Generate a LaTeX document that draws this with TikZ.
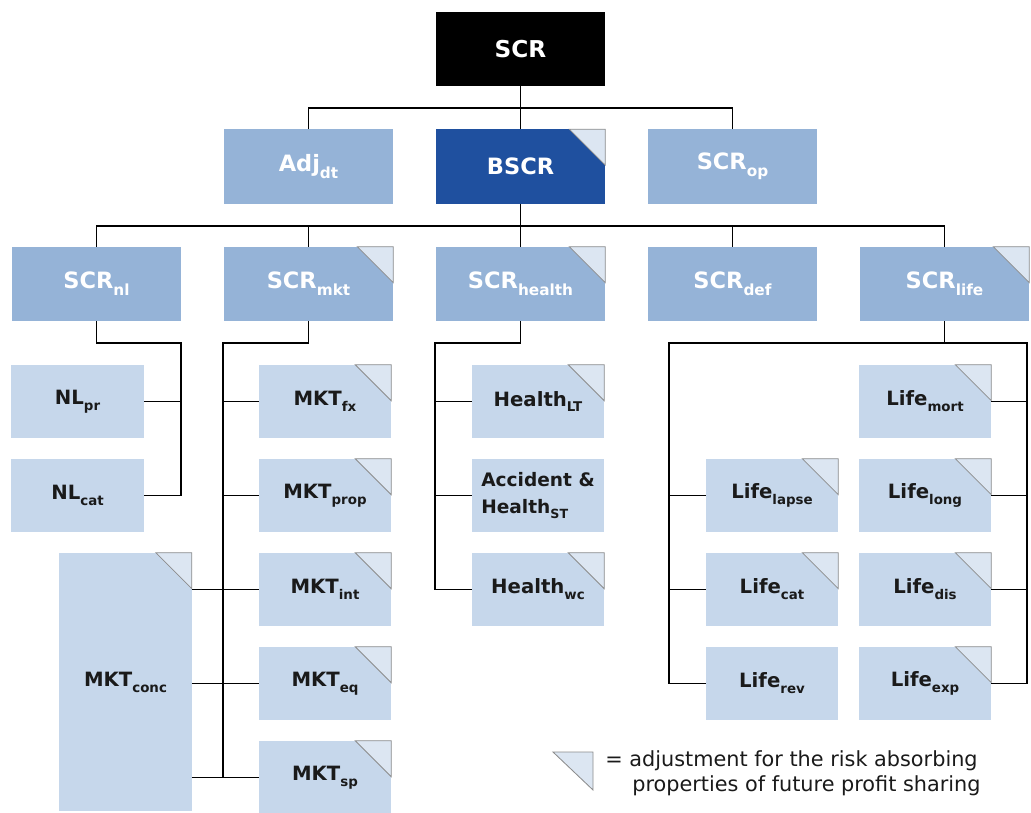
\documentclass[tikz,border=0pt]{standalone}
\usepackage{fontspec}
\setmainfont{DejaVu Sans}

\definecolor{darkblue}{HTML}{1F509F}
\definecolor{midblue}{HTML}{95B3D7}
\definecolor{lightblue}{HTML}{C6D7EB}
\definecolor{flagfill}{HTML}{DCE6F2}
\definecolor{flagline}{HTML}{8C8C8C}
\definecolor{inktext}{HTML}{1A1A1A}

% subscript, lowered as in the chart
\newcommand{\lo}[1]{\raisebox{-0.55ex}{\scalebox{0.68}{#1}}}

\tikzset{
  box/.style={inner sep=0pt, text=white, font=\bfseries\fontsize{16}{19}\selectfont},
  topbox/.style={box, fill=black, minimum width=4.225cm, minimum height=1.85cm, font=\bfseries\fontsize{16.5}{19}\selectfont},
  midbox/.style={box, fill=midblue, minimum width=4.225cm, minimum height=1.85cm},
  subbox/.style={box, fill=lightblue, minimum width=3.3cm, minimum height=1.825cm, text=inktext, font=\bfseries\fontsize{14}{16.5}\selectfont},
  link/.style={draw=black, line width=0.9pt},
  sublink/.style={draw=black, line width=1.2pt},
  flag/.style={fill=flagfill, draw=flagline, line width=0.6pt},
}

\begin{document}
\begin{tikzpicture}[x=0.025cm, y=-0.025cm]
            \useasboundingbox (0,0) rectangle (1031,813);

            % top levels
            \node[topbox] (scr) at (520.5,49) {SCR};
            \node[midbox] (adj) at (308.5,166.5) {Adj\lo{dt}};
            \node[midbox, fill=darkblue] (bscr) at (520.5,166.5) {BSCR};
            \node[midbox] (op) at (732.5,166.5) {SCR\lo{op}};

            \node[midbox] (nl) at (96.5,284) {SCR\lo{nl}};
            \node[midbox] (mkt) at (308.5,284) {SCR\lo{mkt}};
            \node[midbox] (health) at (520.5,284) {SCR\lo{health}};
            \node[midbox] (def) at (732.5,284) {SCR\lo{def}};
            \node[midbox] (life) at (944.5,284) {SCR\lo{life}};

            % modules
            \node[subbox] (nlpr) at (77.5,401.5) {NL\lo{pr}};
            \node[subbox] (nlcat) at (77.5,495.5) {NL\lo{cat}};
            \node[subbox, minimum height=6.45cm] (mktconc) at (125.5,682) {MKT\lo{conc}};

            \node[subbox] (mktfx) at (325,401.5) {MKT\lo{fx}};
            \node[subbox] (mktprop) at (325,495.5) {MKT\lo{prop}};
            \node[subbox] (mktint) at (325,589.5) {MKT\lo{int}};
            \node[subbox] (mkteq) at (325,683.5) {MKT\lo{eq}};
            \node[subbox] (mktsp) at (325,777.5) {MKT\lo{sp}};

            \node[subbox] (hlt) at (538,401.5) {Health\lo{LT}};
            \node[subbox, align=left, font=\bfseries\fontsize{13.2}{19}\selectfont] (hst) at (538,495.5) {Accident \&\\Health\lo{ST}};
            \node[subbox] (hwc) at (538,589.5) {Health\lo{wc}};

            \node[subbox] (llapse) at (772,495.5) {Life\lo{lapse}};
            \node[subbox] (lcat) at (772,589.5) {Life\lo{cat}};
            \node[subbox] (lrev) at (772,683.5) {Life\lo{rev}};
            \node[subbox] (lmort) at (925,401.5) {Life\lo{mort}};
            \node[subbox] (llong) at (925,495.5) {Life\lo{long}};
            \node[subbox] (ldis) at (925,589.5) {Life\lo{dis}};
            \node[subbox] (lexp) at (925,683.5) {Life\lo{exp}};

            % corner flags
            \foreach \n in {bscr,mkt,health,life,mktconc,mktfx,mktprop,mktint,mkteq,mktsp,hlt,hwc,llapse,lcat,lmort,llong,ldis,lexp}
                \path[flag] (\n.north east) -- ++(-36,0) -- ++(36,36) -- cycle;

            % bus points
            \coordinate (b1) at (520.5,108);
            \coordinate (b2) at (520.5,226);
            \coordinate (nlb) at (181,343);
            \coordinate (mktb) at (223,343);
            \coordinate (hb) at (435,343);
            \coordinate (lfl) at (669,343);
            \coordinate (lfr) at (1027,343);

            % edges
            \path[link] (scr) -- (b1);
            \path[link] (adj.north) |- (b1) -| (op.north);
            \path[link] (b1) -- (bscr);
            \path[link] (bscr) -- (b2);
            \path[link] (nl.north) |- (b2) -| (life.north);
            \path[link] (mkt.north) -- (mkt.north |- b2);
            \path[link] (health.north) -- (health.north |- b2);
            \path[link] (def.north) -- (def.north |- b2);

            \path[sublink] (nl.south) |- (nlb) |- (nlcat.east);
            \path[link] (nlpr.east) -- (nlpr.east -| nlb);

            \path[sublink] (mkt.south) |- (mktb) |- (mktsp.west);
            \foreach \n in {mktfx,mktprop,mktint,mkteq}
                \path[link] (\n.west) -- (\n.west -| mktb);
            \foreach \n in {mktint,mkteq,mktsp}
                \path[link] (mktconc.east |- \n.west) -- (\n.west);

            \path[sublink] (health.south) |- (hb) |- (hwc.west);
            \foreach \n in {hlt,hst}
                \path[link] (\n.west) -- (\n.west -| hb);

            \path[sublink] (life.south) -- (life.south |- lfl);
            \path[sublink] (lrev.west) -| (lfl) -- (lfr) |- (lexp.east);
            \foreach \n in {llapse,lcat}
                \path[link] (\n.west) -- (\n.west -| lfl);
            \foreach \n in {lmort,llong,ldis}
                \path[link] (\n.east) -- (\n.east -| lfr);

            % legend
            \path[flag] (553,752) -- (593,752) -- (593,790) -- cycle;
            \node[anchor=west, inner sep=0pt, text=inktext, font=\fontsize{14.8}{17}\selectfont] (key1) at (605,761) {= adjustment for the risk absorbing};
            \node[anchor=west, inner sep=0pt, text=inktext, font=\fontsize{14.8}{17}\selectfont] (key2) at (632,786) {properties of future profit sharing};
        \end{tikzpicture}
\end{document}
